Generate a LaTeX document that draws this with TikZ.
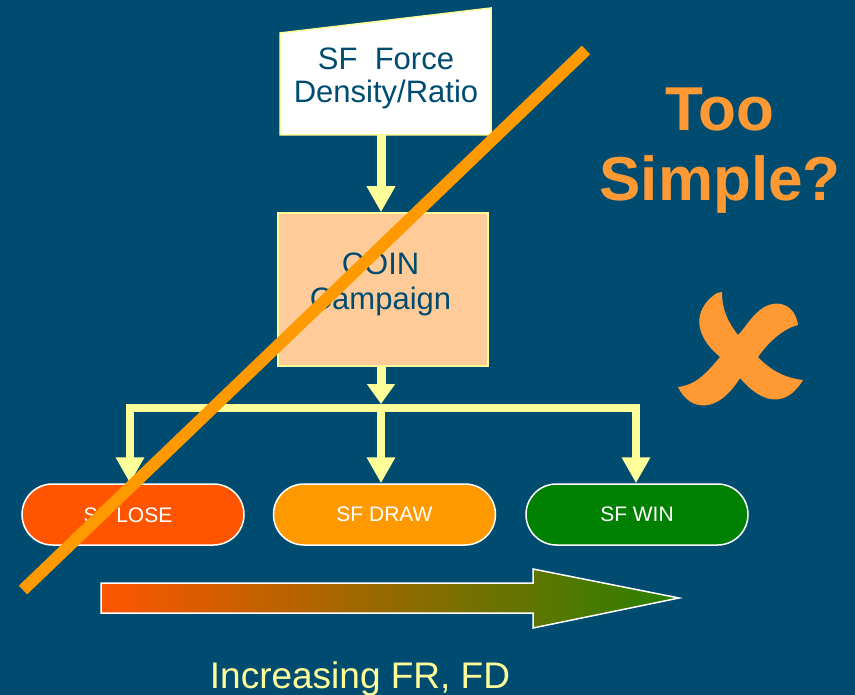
\documentclass[tikz,border=0pt]{standalone}
\usepackage{fontspec}
\setmainfont{Liberation Sans}
\usetikzlibrary{arrows.meta,shapes.misc}
\definecolor{bg}{RGB}{0,76,112}
\definecolor{ylw}{RGB}{255,255,153}
\definecolor{peach}{RGB}{255,204,153}
\definecolor{loser}{RGB}{255,85,0}
\definecolor{drawc}{RGB}{255,153,0}
\definecolor{winc}{RGB}{0,128,0}
\definecolor{gradend}{RGB}{40,128,0}
\definecolor{slashc}{RGB}{255,153,0}
\definecolor{xc}{RGB}{255,153,51}
\begin{document}
\begin{tikzpicture}[x=1pt,y=-1pt,
  yarrow/.style={draw=ylw, line width=9pt, line join=miter,
    -{Triangle[width=27pt,length=26pt]}},
  boxtext/.style={text=bg, align=center, font=\fontsize{31}{33}\selectfont},
  pill/.style={rounded rectangle, draw=white, line width=1.5pt,
    minimum width=222pt, minimum height=61pt, inner sep=0pt,
    text=white, font=\fontsize{21}{24}\selectfont},
  slash/.style={draw=slashc, line width=12pt, line cap=butt}]
\fill[bg] (0,0) rectangle (855,695);
\useasboundingbox (0,0) rectangle (855,695);
% top box
\draw[ylw, fill=white, line width=1.5pt] (280,33) -- (491,8) -- (491,135) -- (280,135) -- cycle;
\coordinate (topb) at (381,135);
\node[boxtext] (toptxt) at (386,78) {SF\ \ Force\\Density/Ratio};
% COIN box
\node[draw=ylw, fill=peach, line width=1.5pt, minimum width=210pt, minimum height=153pt, inner sep=0pt] (coin) at (383,289.5) {};
\node[boxtext, font=\fontsize{31}{35}\selectfont] (cointxt) at (380.5,284) {COIN\\Campaign};
% outcome pills
\node[pill, fill=loser] (lose) at (133,514.5) {};
\node[text=white, font=\fontsize{21}{24}\selectfont] (losetxt) at (128,515) {SF LOSE};
\node[pill, fill=drawc] (drw) at (384.5,514.5) {SF DRAW};
\node[pill, fill=winc] (win) at (637,514.5) {SF WIN};
% connectors
\coordinate (split) at (381,408);
\coordinate (splittop) at (381,404);
\draw[yarrow] (topb) -- (coin.north -| topb);
\draw[draw=ylw, line width=9pt, -{Triangle[width=27pt,length=20pt]}] (coin.south -| split) -- (splittop);
\draw[draw=ylw, line width=8pt, line join=miter,
  {Triangle[width=27pt,length=26pt]}-{Triangle[width=27pt,length=26pt]}]
  (lose.north -| 130,0) |- (split) -| (win.north -| 636,0);
\draw[yarrow, line width=8pt] (split) -- (drw.north -| split);
% gradient arrow
\path[left color=loser, right color=gradend, draw=white, line width=1.5pt]
  (101,583) -- (533,583) -- (533,569) -- (679,598) -- (533,628) -- (533,613) -- (101,613) -- cycle;
\node[text=ylw, anchor=base, font=\fontsize{37}{40}\selectfont] (incr) at (360,688) {Increasing FR, FD};
% Too Simple?
\node[text=xc, align=center, font=\fontsize{62}{70}\bfseries\selectfont] (too) at (720,151) {Too\\Simple?};
% X mark
\fill[xc] (717,293) .. controls (698,305) and (688,330) .. (720,357)
  .. controls (705,375) and (695,385) .. (678,387)
  .. controls (690,412) and (718,414) .. (740,378)
  .. controls (760,402) and (785,410) .. (803,380)
  .. controls (785,378) and (770,370) .. (758,357)
  .. controls (770,340) and (785,328) .. (798,325)
  .. controls (795,303) and (775,298) .. (760,310)
  .. controls (750,318) and (745,328) .. (738,335)
  .. controls (728,322) and (722,310) .. (722,292) -- cycle;
% slash
\coordinate (slA) at (586,50);
\coordinate (slB) at (23,590);
\draw[slash] (slA) -- (slB);
\end{tikzpicture}
\end{document}
